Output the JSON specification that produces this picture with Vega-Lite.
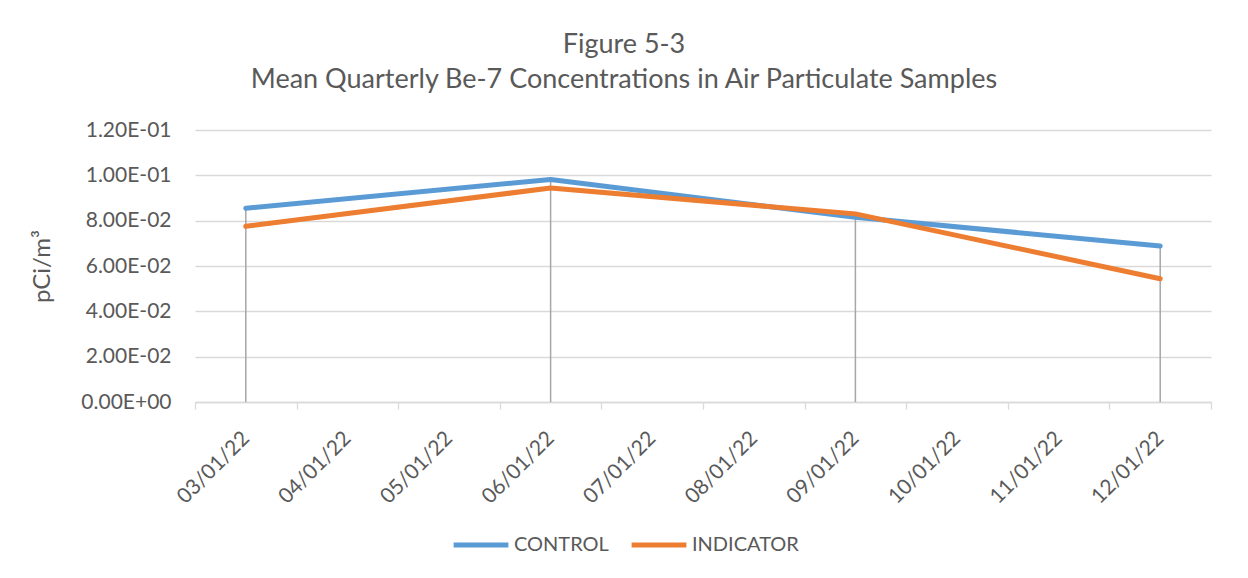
{
  "$schema": "https://vega.github.io/schema/vega-lite/v6.json",
  "width": 1016,
  "height": 272,
  "autosize": {"type": "none"},
  "padding": {"left": 195, "top": 130, "right": 37, "bottom": 176},
  "background": "white",
  "title": {
    "text": ["Figure 5-3", "Mean Quarterly Be-7 Concentrations in Air Particulate Samples"],
    "font": "Lato",
    "fontSize": 27,
    "fontWeight": "normal",
    "color": "#595959",
    "lineHeight": 35,
    "anchor": "middle",
    "dx": -79,
    "offset": 25
  },
  "data": {
    "values": [
      {"date": "03/01/22", "series": "CONTROL", "value": 0.0855},
      {"date": "06/01/22", "series": "CONTROL", "value": 0.0982},
      {"date": "09/01/22", "series": "CONTROL", "value": 0.0815},
      {"date": "12/01/22", "series": "CONTROL", "value": 0.0688},
      {"date": "03/01/22", "series": "INDICATOR", "value": 0.0775},
      {"date": "06/01/22", "series": "INDICATOR", "value": 0.0944},
      {"date": "09/01/22", "series": "INDICATOR", "value": 0.0830},
      {"date": "12/01/22", "series": "INDICATOR", "value": 0.0544}
    ]
  },
  "encoding": {
    "x": {
      "field": "date",
      "type": "ordinal",
      "scale": {
        "type": "band",
        "domain": ["03/01/22", "04/01/22", "05/01/22", "06/01/22", "07/01/22", "08/01/22", "09/01/22", "10/01/22", "11/01/22", "12/01/22"],
        "paddingInner": 0,
        "paddingOuter": 0
      },
      "axis": {
        "title": null,
        "labelAngle": -45,
        "labelAlign": "right",
        "labelBaseline": "middle",
        "labelFont": "Lato",
        "labelFontSize": 21,
        "labelColor": "#595959",
        "labelPadding": 26,
        "domainColor": "#D9D9D9",
        "domainWidth": 1.3,
        "tickColor": "#D9D9D9",
        "tickWidth": 1.3,
        "tickSize": 7,
        "tickBand": "extent",
        "grid": false
      }
    }
  },
  "layer": [
    {
      "transform": [
        {"aggregate": [{"op": "max", "field": "value", "as": "top"}], "groupby": ["date"]}
      ],
      "mark": {"type": "rule", "color": "#A6A6A6", "strokeWidth": 1.5},
      "encoding": {
        "y": {"field": "top", "type": "quantitative"},
        "y2": {"datum": 0}
      }
    },
    {
      "mark": {"type": "line", "strokeWidth": 5, "strokeCap": "round", "strokeJoin": "round"},
      "encoding": {
        "y": {
          "field": "value",
          "type": "quantitative",
          "scale": {"domain": [0, 0.12], "nice": false},
          "axis": {
            "title": "pCi/m³",
            "titleFont": "Lato",
            "titleFontSize": 24,
            "titleFontWeight": "normal",
            "titleColor": "#595959",
            "titlePadding": 26,
            "values": [0, 0.02, 0.04, 0.06, 0.08, 0.1, 0.12],
            "labelExpr": "datum.value == 0 ? '0.00E+00' : datum.value >= 0.1 ? format(datum.value * 10, '.2f') + 'E-01' : format(datum.value * 100, '.2f') + 'E-02'",
            "labelFont": "Lato",
            "labelFontSize": 21,
            "labelColor": "#595959",
            "labelPadding": 24,
            "domain": false,
            "ticks": false,
            "grid": true,
            "gridColor": "#D9D9D9",
            "gridWidth": 1.3
          }
        },
        "color": {
          "field": "series",
          "type": "nominal",
          "scale": {"domain": ["CONTROL", "INDICATOR"], "range": ["#5B9BD5", "#ED7D31"]},
          "legend": {
            "title": null,
            "orient": "none",
            "legendX": 256,
            "legendY": 385,
            "direction": "horizontal",
            "symbolType": "stroke",
            "symbolStrokeWidth": 5,
            "symbolSize": 3000,
            "labelFont": "Lato",
            "labelFontSize": 20,
            "labelColor": "#595959",
            "labelOffset": 3,
            "columnPadding": 12
          }
        }
      }
    }
  ],
  "config": {
    "view": {"stroke": null}
  }
}
